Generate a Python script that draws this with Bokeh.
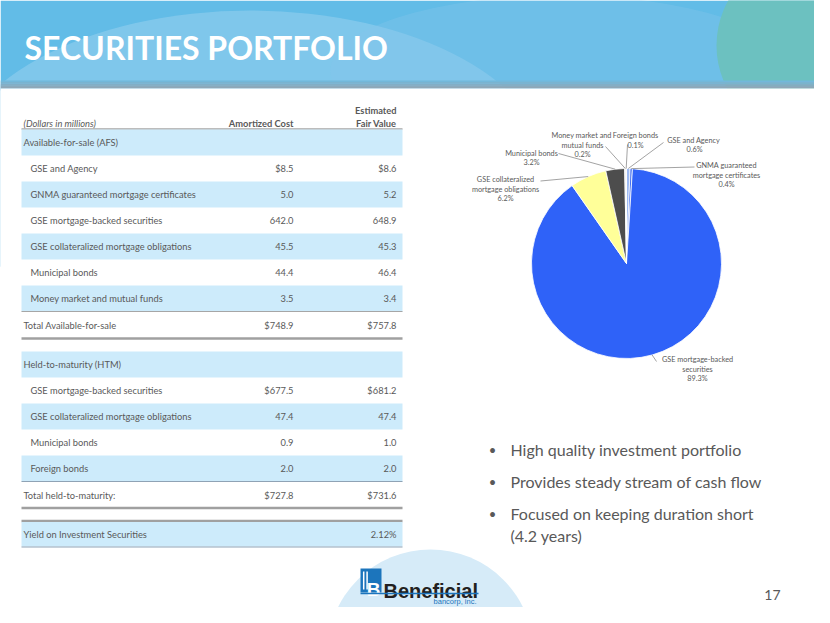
import math
from bokeh.plotting import figure
from bokeh.models import Range1d
from bokeh.core.properties import value
from bokeh.embed import file_html
from bokeh.resources import INLINE

# ---------------- data ----------------
title_text = "SECURITIES PORTFOLIO"
unit_note = "(Dollars in millions)"
col_cost = "Amortized Cost"
col_fair = ["Estimated", "Fair Value"]

afs_title = "Available-for-sale (AFS)"
afs_items = ["GSE and Agency", "GNMA guaranteed mortgage certificates",
             "GSE mortgage-backed securities", "GSE collateralized mortgage obligations",
             "Municipal bonds", "Money market and mutual funds"]
afs_cost = [8.5, 5.0, 642.0, 45.5, 44.4, 3.5]
afs_fair = [8.6, 5.2, 648.9, 45.3, 46.4, 3.4]
afs_total_label = "Total Available-for-sale"
afs_total = [748.9, 757.8]

htm_title = "Held-to-maturity (HTM)"
htm_items = ["GSE mortgage-backed securities", "GSE collateralized mortgage obligations",
             "Municipal bonds", "Foreign bonds"]
htm_cost = [677.5, 47.4, 0.9, 2.0]
htm_fair = [681.2, 47.4, 1.0, 2.0]
htm_total_label = "Total held-to-maturity:"
htm_total = [727.8, 731.6]

yield_label = "Yield on Investment Securities"
yield_value = 2.12

pie_names = ["GSE and Agency", "GNMA guaranteed mortgage certificates",
             "GSE mortgage-backed securities", "GSE collateralized mortgage obligations",
             "Municipal bonds", "Money market and mutual funds", "Foreign bonds"]
pie_pcts = [0.6, 0.4, 89.3, 6.2, 3.2, 0.2, 0.1]
pie_label_lines = [["GSE and  Agency"], ["GNMA guaranteed", "mortgage certificates"],
                   ["GSE mortgage-backed", "securities"], ["GSE collateralized", "mortgage obligations"],
                   ["Municipal bonds"], ["Money market  and", "mutual funds"], ["Foreign bonds"]]

bullets = ["High quality investment portfolio",
           "Provides steady stream of cash flow",
           "Focused on keeping duration short",
           "(4.2 years)"]
page_number = "17"
logo_name = "Beneficial"
logo_sub = "bancorp, inc."

# ---------------- style / layout ----------------
FONT = "Lato"
GRAY = "#595959"
BAND = "#CDEBFB"
LOGO_BLUE = "#1C75BC"
PIE_COLORS = ["#9DBAF2", "#3F6DF2", "#2F62F8", "#FFFF99", "#4D4D4D", "#D9D9D9", "#F2F2F2"]

W, H = 814, 607


def Y(py):
    return H - py


p = figure(width=W, height=H, output_backend="svg", toolbar_location=None,
           x_range=Range1d(0, W), y_range=Range1d(0, H),
           min_border=0, background_fill_color="white", border_fill_color="white")
p.axis.visible = False
p.grid.visible = False
p.outline_line_color = None


def txt(x, py, s, size, color=GRAY, align="left", style="normal", font=FONT, baseline="middle"):
    p.text(x=[x], y=[Y(py)], text=[s], text_font=value(font), text_font_size=size,
           text_color=color, text_align=align, text_baseline=baseline, text_font_style=style)


def band(x0, x1, py0, py1, color):
    p.quad(left=[x0], right=[x1], top=[Y(py0)], bottom=[Y(py1)], fill_color=color, line_color=None)


def hline(x0, x1, py, color, width):
    p.segment(x0=[x0], y0=[Y(py)], x1=[x1], y1=[Y(py)], line_color=color, line_width=width)


# ---------------- banner ----------------
band(0, W, 0, 90, "#62BCE7")
p.ellipse(x=[250], y=[Y(175)], width=[600], height=[330], fill_color="#92CEEF", line_color=None, fill_alpha=0.6)
p.ellipse(x=[560], y=[Y(70)], width=[460], height=[150], fill_color="#86C6EC", line_color=None, fill_alpha=0.35)
p.circle(x=[808], y=[Y(45)], radius=92, fill_color="#6CC1C0", line_color=None)
shade = ["#72B8DA", "#7AB3D0", "#82AEC6", "#8AAABD", "#8FA7B6"]
for i, c in enumerate(shade):
    band(0, W, 80 + i * 1.6, 80 + (i + 1) * 1.6, c)
band(0, W, 88, H + 5, "white")
txt(24, 47, title_text, "32px", color="white", style="bold")

# ---------------- table ----------------
TX0, TX1 = 21, 402
XL, XI, XC, XF = 23, 30, 293, 396
ROW = 26
FS = "9.3px"


def fmt(v, dollar=False):
    return ("$" if dollar else "") + f"{v:.1f}"


txt(XL, 123, unit_note, FS, style="italic")
txt(XC, 123, col_cost, FS, align="right", style="bold")
txt(XF, 110, col_fair[0], FS, align="right", style="bold")
txt(XF, 123, col_fair[1], FS, align="right", style="bold")
hline(TX0, TX1, 128.5, "#A6A6A6", 1.5)

top = 129
band(TX0, TX1, top, top + ROW, BAND)
txt(XL, top + 13, afs_title, FS)
for i, (name, c, f) in enumerate(zip(afs_items, afs_cost, afs_fair)):
    y0 = top + ROW * (i + 1)
    if i % 2 == 1:
        band(TX0, TX1, y0, y0 + ROW, BAND)
    txt(XI, y0 + 13, name, FS)
    txt(XC, y0 + 13, fmt(c, i == 0), FS, align="right")
    txt(XF, y0 + 13, fmt(f, i == 0), FS, align="right")
end_afs = top + ROW * (len(afs_items) + 1)
hline(TX0, TX1, end_afs, "#A6A6A6", 1.2)
txt(XL, end_afs + 14, afs_total_label, FS)
txt(XC, end_afs + 14, fmt(afs_total[0], True), FS, align="right")
txt(XF, end_afs + 14, fmt(afs_total[1], True), FS, align="right")
hline(TX0, TX1, end_afs + 27, "#A0A0A0", 2.5)

top = end_afs + 40
band(TX0, TX1, top, top + ROW, BAND)
txt(XL, top + 13, htm_title, FS)
for i, (name, c, f) in enumerate(zip(htm_items, htm_cost, htm_fair)):
    y0 = top + ROW * (i + 1)
    if i % 2 == 1:
        band(TX0, TX1, y0, y0 + ROW, BAND)
    txt(XI, y0 + 13, name, FS)
    txt(XC, y0 + 13, fmt(c, i == 0), FS, align="right")
    txt(XF, y0 + 13, fmt(f, i == 0), FS, align="right")
end_htm = top + ROW * (len(htm_items) + 1)
hline(TX0, TX1, end_htm, "#8FA3B5", 1.2)
txt(XL, end_htm + 13.5, htm_total_label, FS)
txt(XC, end_htm + 13.5, fmt(htm_total[0], True), FS, align="right")
txt(XF, end_htm + 13.5, fmt(htm_total[1], True), FS, align="right")
hline(TX0, TX1, end_htm + 26.5, "#A0A0A0", 2.5)

ytop = end_htm + 39.5
hline(TX0, TX1, ytop, "#A0A0A0", 2.5)
band(TX0, TX1, ytop + 1, ytop + 25.5, BAND)
txt(XL, ytop + 13, yield_label, FS)
txt(XF, ytop + 13, f"{yield_value:.2f}%", FS, align="right")
hline(TX0, TX1, ytop + 26, "#8FA3B5", 1.2)

# ---------------- pie ----------------
CX, CY, R = 626, 263, 95
cum = 0.0
starts, ends, mids = [], [], []
tot = sum(pie_pcts)
for v in pie_pcts:
    a0 = math.pi / 2 - 2 * math.pi * cum / tot
    cum += v
    a1 = math.pi / 2 - 2 * math.pi * cum / tot
    starts.append(a0)
    ends.append(a1)
    mids.append((a0 + a1) / 2)
p.wedge(x=[CX] * len(pie_pcts), y=[Y(CY)] * len(pie_pcts), radius=R,
        start_angle=starts, end_angle=ends, direction="clock",
        fill_color=PIE_COLORS, line_color="white", line_width=0.8)

# label placement: (center x, first-line y, leader start x, leader start y)
label_pos = [(694, 139.5, 663, 142), (726, 165, 694, 166.5), (697, 359, 656, 361),
             (505, 179, 540, 180.5), (531, 152.5, 558, 153), (582, 135, 605, 146),
             (635, 135, 627, 144)]
PFS = "7.3px"
for lines, pct, mid, (lx, ly, sx, sy) in zip(pie_label_lines, pie_pcts, mids, label_pos):
    ex = CX + R * math.cos(mid)
    ey = Y(CY) + R * math.sin(mid)
    p.segment(x0=[sx], y0=[Y(sy)], x1=[ex], y1=[ey], line_color="#8C8C8C", line_width=0.8)
    for k, s in enumerate(lines + [f"{pct:.1f}%"]):
        txt(lx, ly + k * 9.5, s, PFS, align="center")

# ---------------- bullets ----------------
BY = [449, 481, 513, 535]
for k, (s, by) in enumerate(zip(bullets, BY)):
    if k < 3:
        txt(492, by, "\u2022", "13px", align="center")
    txt(510, by, s, "16px")
txt(780, 594, page_number, "14px", align="right")

# ---------------- logo ----------------
p.circle(x=[430], y=[Y(652)], radius=103, fill_color="#D6EBF8", line_color=None)
band(360, 381, 568, 592, LOGO_BLUE)
for bx in [363.2, 366.6]:
    p.segment(x0=[bx], y0=[Y(571)], x1=[bx], y1=[Y(589)], line_color="white", line_width=1.5)
txt(380, 589, "B", "19px", color="white", align="right", style="bold",
    font="Liberation Sans", baseline="alphabetic")
txt(383, 590, logo_name, "20px", color="#231F20", style="bold",
    font="Liberation Sans", baseline="alphabetic")
hline(360, 478, 593, LOGO_BLUE, 1.3)
txt(476, 601, logo_sub, "7.5px", color=LOGO_BLUE, align="right",
    font="Liberation Sans", baseline="alphabetic")

open("out.html", "w").write(file_html(p, INLINE))
